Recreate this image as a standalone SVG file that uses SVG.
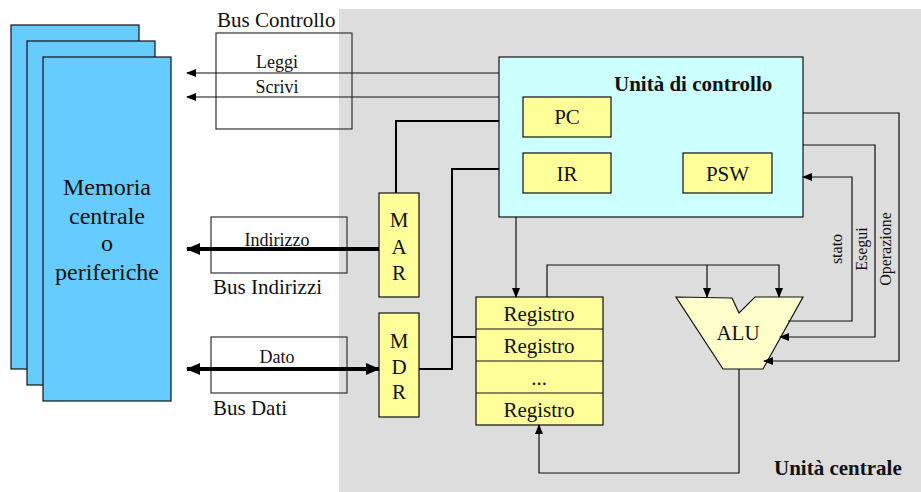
<svg xmlns="http://www.w3.org/2000/svg" width="921" height="492" viewBox="0 0 921 492">
<defs>
<style>
.t{font-family:"Liberation Serif","Times New Roman",serif;fill:#111}
.b{font-weight:bold}
.ln{fill:none;stroke:#111;stroke-width:1.2}
.tk{fill:none;stroke:#000;stroke-width:2}
.bus{fill:none;stroke:#333;stroke-width:1.2}
.y{fill:#FFFF99;stroke:#111;stroke-width:1.2}
.mem{fill:#66CCFF;stroke:#111;stroke-width:1.2}
</style>
<marker id="a" markerWidth="10" markerHeight="8" refX="9" refY="4" orient="auto" markerUnits="userSpaceOnUse">
<path d="M0,0 L10,4 L0,8 Z" fill="#000"/>
</marker>
<marker id="A" markerWidth="14" markerHeight="12" refX="13" refY="6" orient="auto-start-reverse" markerUnits="userSpaceOnUse">
<path d="M0,0 L14,6 L0,12 Z" fill="#000"/>
</marker>
</defs>
<rect x="0" y="0" width="921" height="492" fill="#fff"/>
<rect id="unita-centrale-bg" x="339" y="9" width="582" height="483" fill="#DDDDDD"/>

<g id="memoria">
<rect class="mem" x="11" y="25" width="128" height="344"/>
<rect class="mem" x="27" y="41" width="128" height="344"/>
<rect class="mem" x="43" y="57" width="128" height="344"/>
<text class="t" font-size="24" text-anchor="middle" x="107" y="195">Memoria</text>
<text class="t" font-size="24" text-anchor="middle" x="107" y="224">centrale</text>
<text class="t" font-size="24" text-anchor="middle" x="107" y="251">o</text>
<text class="t" font-size="24" text-anchor="middle" x="107" y="280">periferiche</text>
</g>

<g id="bus-controllo">
<rect class="bus" x="216" y="33" width="136" height="96"/>
<text class="t" font-size="21" x="217" y="27">Bus Controllo</text>
<text class="t" font-size="18" text-anchor="middle" x="277" y="68">Leggi</text>
<text class="t" font-size="18" text-anchor="middle" x="277" y="93">Scrivi</text>
</g>

<g id="bus-indirizzi">
<rect class="bus" x="211" y="217" width="136" height="56"/>
<text class="t" font-size="18" text-anchor="middle" x="277" y="246">Indirizzo</text>
<text class="t" font-size="21" x="213" y="294">Bus Indirizzi</text>
</g>

<g id="bus-dati">
<rect class="bus" x="211" y="337" width="136" height="56"/>
<text class="t" font-size="18" text-anchor="middle" x="277" y="363">Dato</text>
<text class="t" font-size="21" x="213" y="415">Bus Dati</text>
</g>

<g id="unita-controllo">
<rect x="499" y="57" width="304" height="160" fill="#CCFFFF" stroke="#111" stroke-width="1.2"/>
<text class="t b" font-size="21" x="614" y="91">Unità di controllo</text>
</g>
<g id="pc">
<rect class="y" x="523" y="97" width="88" height="40"/>
<text class="t" font-size="21" text-anchor="middle" x="567" y="124">PC</text>
</g>
<g id="ir">
<rect class="y" x="523" y="153" width="88" height="40"/>
<text class="t" font-size="21" text-anchor="middle" x="567" y="181">IR</text>
</g>
<g id="psw">
<rect class="y" x="683" y="153" width="89" height="40"/>
<text class="t" font-size="21" text-anchor="middle" x="727.5" y="181">PSW</text>
</g>

<g id="mar">
<rect class="y" x="379" y="193" width="40" height="104"/>
<text class="t" font-size="21" text-anchor="middle" x="399" y="227">M</text>
<text class="t" font-size="21" text-anchor="middle" x="399" y="254">A</text>
<text class="t" font-size="21" text-anchor="middle" x="399" y="280">R</text>
</g>
<g id="mdr">
<rect class="y" x="379" y="313" width="40" height="104"/>
<text class="t" font-size="21" text-anchor="middle" x="399" y="348">M</text>
<text class="t" font-size="21" text-anchor="middle" x="399" y="374">D</text>
<text class="t" font-size="21" text-anchor="middle" x="399" y="399">R</text>
</g>

<g id="registri">
<rect class="y" x="476" y="297" width="127" height="128"/>
<line class="ln" x1="476" y1="329" x2="603" y2="329"/>
<line class="ln" x1="476" y1="361" x2="603" y2="361"/>
<line class="ln" x1="476" y1="393" x2="603" y2="393"/>
<text class="t" font-size="21" text-anchor="middle" x="539" y="321">Registro</text>
<text class="t" font-size="21" text-anchor="middle" x="539" y="353">Registro</text>
<text class="t" font-size="21" text-anchor="middle" x="539" y="385">...</text>
<text class="t" font-size="21" text-anchor="middle" x="539" y="417">Registro</text>
</g>

<g id="alu">
<polygon points="676,297 732,298 739,313 755,297 803,297 763,369 723,369" fill="#FFFFCC" stroke="#111" stroke-width="1.2"/>
<text class="t" font-size="21" text-anchor="middle" x="738" y="340">ALU</text>
</g>

<g id="connectors">
<line class="ln" x1="499" y1="73" x2="187" y2="73" marker-end="url(#a)"/>
<line class="ln" x1="499" y1="97" x2="187" y2="97" marker-end="url(#a)"/>
<polyline class="tk" points="499,121 396,121 396,193"/>
<polyline class="tk" points="499,169 452,169 452,369 419,369"/>
<line class="tk" x1="452" y1="337" x2="476" y2="337"/>
<line x1="379" y1="249" x2="187" y2="249" stroke="#000" stroke-width="4" marker-end="url(#A)"/>
<line x1="187" y1="369" x2="379" y2="369" stroke="#000" stroke-width="4" marker-start="url(#A)" marker-end="url(#A)"/>
<line class="ln" x1="516" y1="217" x2="516" y2="297" marker-end="url(#a)"/>
<polyline class="ln" points="547,297 547,265 779,265 779,297" marker-end="url(#a)"/>
<line class="ln" x1="707" y1="265" x2="707" y2="297" marker-end="url(#a)"/>
<polyline class="ln" points="739,369 739,473 539,473 539,425" marker-end="url(#a)"/>
<polyline class="ln" points="803,113 899,113 899,361 764,361" marker-end="url(#a)"/>
<polyline class="ln" points="803,145 875,145 875,337 780,337" marker-end="url(#a)"/>
<polyline class="ln" points="788,321 852,321 852,177 803,177" marker-end="url(#a)"/>
</g>

<g id="labels">
<text class="t" font-size="16" text-anchor="middle" transform="translate(842,249) rotate(-90)">stato</text>
<text class="t" font-size="16" text-anchor="middle" transform="translate(867,249) rotate(-90)">Esegui</text>
<text class="t" font-size="16" text-anchor="middle" transform="translate(891,249) rotate(-90)">Operazione</text>
<text class="t b" font-size="21" x="774" y="475">Unità centrale</text>
</g>
</svg>
